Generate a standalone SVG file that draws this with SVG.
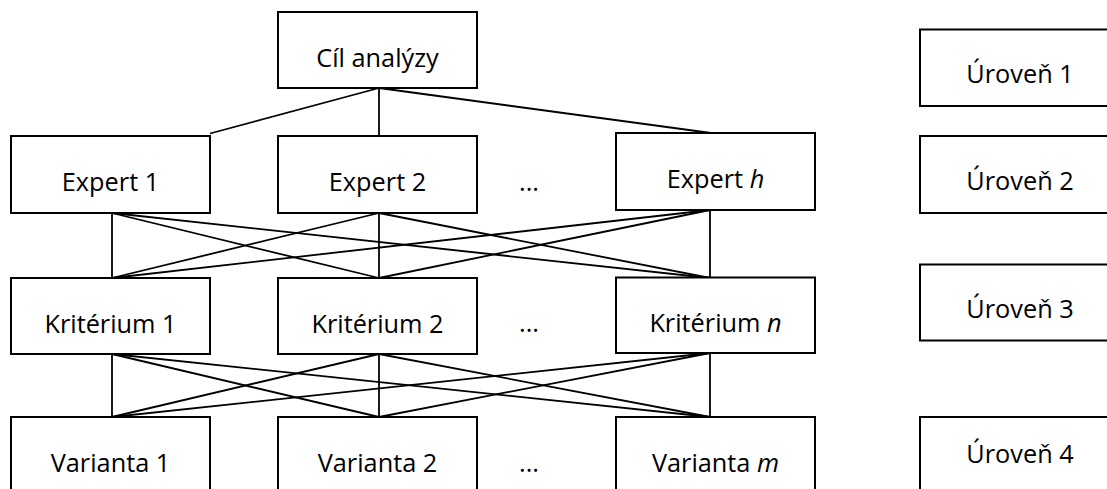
<svg xmlns="http://www.w3.org/2000/svg" width="1107" height="489" viewBox="0 0 1107 489">
  <style>
    .box { fill: #ffffff; stroke: #000000; stroke-width: 2; }
    .lbl { font-family: "Open Sans", "Noto Sans", "DejaVu Sans", sans-serif; font-size: 25.3px; fill: #000000; text-anchor: middle; }
    .edge { stroke: #000000; stroke-width: 1.8; fill: none; }
  </style>
  <rect width="1107" height="489" fill="#ffffff"/>

  <!-- connectors -->
  <g id="connectors" class="edge">
    <!-- goal to experts -->
    <line x1="379" y1="88" x2="210" y2="133.5"/>
    <line x1="379" y1="88" x2="379" y2="136"/>
    <line x1="379" y1="88" x2="711" y2="133"/>
    <!-- experts to criteria -->
    <line x1="112" y1="213" x2="112" y2="278"/>
    <line x1="112" y1="213" x2="379" y2="278"/>
    <line x1="112" y1="213" x2="710" y2="278"/>
    <line x1="379" y1="213" x2="112" y2="278"/>
    <line x1="379" y1="213" x2="379" y2="278"/>
    <line x1="379" y1="213" x2="710" y2="278"/>
    <line x1="710" y1="210" x2="112" y2="278"/>
    <line x1="710" y1="210" x2="379" y2="278"/>
    <line x1="710" y1="210" x2="710" y2="278"/>
    <!-- criteria to alternatives -->
    <line x1="112" y1="354" x2="112" y2="417"/>
    <line x1="112" y1="354" x2="379" y2="417"/>
    <line x1="112" y1="354" x2="710" y2="417"/>
    <line x1="379" y1="354" x2="112" y2="417"/>
    <line x1="379" y1="354" x2="379" y2="417"/>
    <line x1="379" y1="354" x2="710" y2="417"/>
    <line x1="710" y1="353" x2="112" y2="417"/>
    <line x1="710" y1="353" x2="379" y2="417"/>
    <line x1="710" y1="353" x2="710" y2="417"/>
  </g>

  <!-- level 1 -->
  <g id="goal">
    <rect class="box" x="278" y="12" width="199" height="76"/>
    <text class="lbl" x="377.5" y="66.5">Cíl analýzy</text>
  </g>

  <!-- level 2: experts -->
  <g id="expert1">
    <rect class="box" x="11" y="136" width="199" height="77"/>
    <text class="lbl" x="110.5" y="191">Expert 1</text>
  </g>
  <g id="expert2">
    <rect class="box" x="278" y="136" width="199" height="77"/>
    <text class="lbl" x="377.5" y="191">Expert 2</text>
  </g>
  <g id="experts-more">
    <text class="lbl" x="529" y="191">...</text>
  </g>
  <g id="expertH">
    <rect class="box" x="616" y="133" width="199" height="77"/>
    <text class="lbl" x="715.5" y="188">Expert <tspan font-style="italic">h</tspan></text>
  </g>

  <!-- level 3: criteria -->
  <g id="criterion1">
    <rect class="box" x="11" y="278" width="199" height="76"/>
    <text class="lbl" x="110.5" y="333">Kritérium 1</text>
  </g>
  <g id="criterion2">
    <rect class="box" x="278" y="278" width="199" height="76"/>
    <text class="lbl" x="377.5" y="333">Kritérium 2</text>
  </g>
  <g id="criteria-more">
    <text class="lbl" x="529" y="332">...</text>
  </g>
  <g id="criterionN">
    <rect class="box" x="616" y="277.5" width="199" height="75.5"/>
    <text class="lbl" x="715.5" y="331.5">Kritérium <tspan font-style="italic">n</tspan></text>
  </g>

  <!-- level 4: alternatives -->
  <g id="alternative1">
    <rect class="box" x="11" y="417" width="199" height="80"/>
    <text class="lbl" x="110.5" y="471.5">Varianta 1</text>
  </g>
  <g id="alternative2">
    <rect class="box" x="278" y="417" width="199" height="80"/>
    <text class="lbl" x="377.5" y="471.5">Varianta 2</text>
  </g>
  <g id="alternatives-more">
    <text class="lbl" x="529" y="471.5">...</text>
  </g>
  <g id="alternativeM">
    <rect class="box" x="616" y="417" width="199" height="80"/>
    <text class="lbl" x="715.5" y="471.5">Varianta <tspan font-style="italic">m</tspan></text>
  </g>

  <!-- level legend -->
  <g id="level1">
    <rect class="box" x="920" y="29.5" width="200" height="76.5"/>
    <text class="lbl" x="1020" y="83">Úroveň 1</text>
  </g>
  <g id="level2">
    <rect class="box" x="920" y="136" width="200" height="77"/>
    <text class="lbl" x="1020" y="190">Úroveň 2</text>
  </g>
  <g id="level3">
    <rect class="box" x="920" y="264.5" width="200" height="76"/>
    <text class="lbl" x="1020" y="318">Úroveň 3</text>
  </g>
  <g id="level4">
    <rect class="box" x="920" y="417" width="200" height="80"/>
    <text class="lbl" x="1020" y="463">Úroveň 4</text>
  </g>
</svg>
